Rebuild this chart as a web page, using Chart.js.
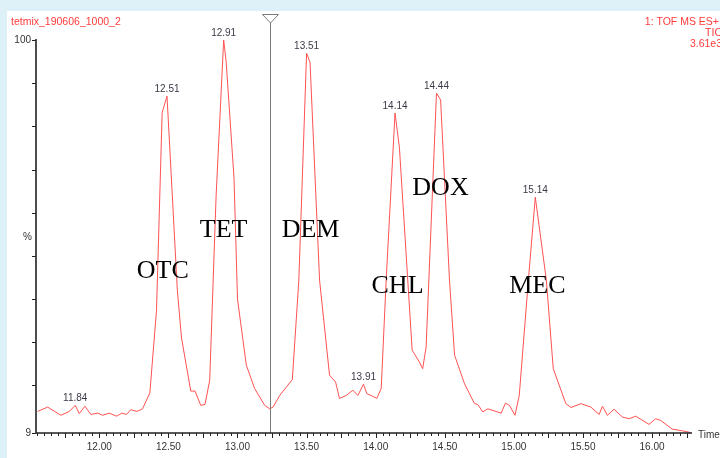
<!DOCTYPE html>
<html>
<head>
<meta charset="utf-8">
<script src="https://cdn.jsdelivr.net/npm/chart.js@4/dist/chart.umd.min.js"></script>
<style>
  html, body { margin: 0; padding: 0; background: #def1f9; }
  #wrap { position: relative; width: 720px; height: 458px; }
  canvas { display: block; }
</style>
</head>
<body>
<div id="wrap"><canvas id="tic" width="720" height="458"></canvas></div>
<script>
// retention time (min) and relative intensity (%)
const times = [11.554, 11.626, 11.723, 11.783, 11.826, 11.855, 11.896, 11.939, 11.988, 12.024,
  12.072, 12.125, 12.163, 12.197, 12.228, 12.272, 12.313, 12.366, 12.414, 12.455,
  12.49, 12.565, 12.595, 12.662, 12.693, 12.734, 12.765, 12.799, 12.845, 12.90,
  12.918, 12.975, 13.0, 13.064, 13.124, 13.197, 13.233, 13.257, 13.306, 13.397,
  13.444, 13.50, 13.525, 13.594, 13.666, 13.71, 13.738, 13.787, 13.835, 13.871,
  13.912, 13.936, 13.967, 14.008, 14.04, 14.076, 14.14, 14.172, 14.264, 14.317,
  14.34, 14.365, 14.44, 14.47, 14.534, 14.571, 14.643, 14.715, 14.739, 14.775,
  14.812, 14.908, 14.939, 14.968, 15.008, 15.039, 15.105, 15.155, 15.235, 15.285,
  15.376, 15.413, 15.485, 15.557, 15.617, 15.641, 15.677, 15.725, 15.785, 15.834,
  15.882, 15.978, 16.026, 16.063, 16.146, 16.219, 16.267, 16.279];
const signal = [14.0, 15.0, 13.1, 14.0, 15.4, 13.5, 15.2, 13.3, 13.6, 13.1,
  13.6, 12.9, 13.6, 13.3, 14.4, 14.0, 14.6, 18.3, 37.4, 83.2,
  87.0, 42.0, 31.0, 18.7, 18.7, 15.4, 15.6, 21.2, 63.7, 100.0,
  95.0, 68.0, 40.0, 24.7, 19.3, 15.4, 14.6, 15.0, 17.7, 21.4,
  44.4, 96.9, 94.8, 44.4, 22.4, 20.8, 17.0, 17.7, 18.9, 17.7,
  20.3, 18.1, 17.7, 17.0, 19.3, 44.4, 83.1, 75.0, 28.2, 25.4,
  23.9, 28.9, 87.7, 86.1, 44.4, 27.0, 20.4, 15.8, 15.6, 13.9,
  14.6, 13.6, 15.9, 15.4, 13.1, 17.7, 44.4, 63.6, 44.4, 23.9,
  15.8, 14.9, 15.8, 15.0, 13.3, 15.2, 13.1, 14.5, 12.7, 12.3,
  12.9, 11.0, 12.3, 11.9, 9.9, 9.5, 9.2, 9.0];

// apex points (index into the trace) and the times printed above them
const peakIndex = [4, 20, 29, 41, 50, 56, 62, 77];
const peakLabels = ['11.84', '12.51', '12.91', '13.51', '13.91', '14.14', '14.44', '15.14'];
const compounds = ['OTC', 'TET', 'DEM', 'CHL', 'DOX', 'MEC'];
const xTickLabels = ['12.00', '12.50', '13.00', '13.50', '14.00', '14.50', '15.00', '15.50', '16.00'];
const yTickLabels = ['9', '100'];
const markerTime = 13.233;

// where the compound names sit, in (time, %) coordinates
const compoundAt = [[12.459, 46.5], [12.90, 56.0], [13.529, 56.0], [14.158, 43.0], [14.469, 65.7], [15.17, 43.0]];

const points = times.map((t, i) => ({ x: t, y: signal[i] }));

const decor = {
  id: 'decor',
  beforeDraw(chart) {
    const c = chart.ctx;
    c.save();
    c.fillStyle = '#def1f9';
    c.fillRect(0, 0, 720, 458);
    c.fillStyle = '#ffffff';
    c.fillRect(7, 11, 713, 447);
    c.restore();
  },
  afterDatasetsDraw(chart) {
    const c = chart.ctx;
    const xs = chart.scales.x, ys = chart.scales.y;
    const a = chart.chartArea;
    c.save();

    // marker line with triangle
    const mx = Math.round(xs.getPixelForValue(markerTime)) + 0.5;
    c.strokeStyle = '#7a7a7a';
    c.lineWidth = 1;
    c.beginPath();
    c.moveTo(mx, 22);
    c.lineTo(mx, a.bottom);
    c.stroke();
    c.fillStyle = '#ffffff';
    c.beginPath();
    c.moveTo(mx - 8, 14.5);
    c.lineTo(mx + 8, 14.5);
    c.lineTo(mx, 23);
    c.closePath();
    c.fill();
    c.stroke();

    // axes
    c.strokeStyle = '#222';
    c.lineWidth = 1.6;
    c.beginPath();
    c.moveTo(a.left, ys.getPixelForValue(100) - 1);
    c.lineTo(a.left, a.bottom);
    c.lineTo(a.right, a.bottom);
    c.stroke();

    c.lineWidth = 1;
    // x ticks every 0.05
    for (let k = Math.ceil(xs.min / 0.05); k * 0.05 <= xs.max; k++) {
      const px = Math.round(xs.getPixelForValue(k * 0.05)) + 0.5;
      const len = (k % 5 === 0) ? 5 : 3;
      c.beginPath();
      c.moveTo(px, a.bottom);
      c.lineTo(px, a.bottom + len);
      c.stroke();
    }
    // y ticks
    [9, 20, 30, 40, 50, 60, 70, 80, 90, 100].forEach(v => {
      const py = Math.round(ys.getPixelForValue(v)) + 0.5;
      c.beginPath();
      c.moveTo(a.left - 4, py);
      c.lineTo(a.left, py);
      c.stroke();
    });

    c.fillStyle = '#333';
    c.font = '10px "Liberation Sans", Arial, sans-serif';
    c.textAlign = 'center';
    c.textBaseline = 'middle';
    xTickLabels.forEach(l => {
      c.fillText(l, xs.getPixelForValue(parseFloat(l)), a.bottom + 14);
    });
    c.textAlign = 'right';
    yTickLabels.forEach(l => {
      c.fillText(l, a.left - 5, ys.getPixelForValue(parseFloat(l)));
    });
    c.fillText('%', 32, 237);
    c.textAlign = 'left';
    c.fillText('Time', 698, a.bottom + 2);

    // peak apex labels
    c.textAlign = 'center';
    c.textBaseline = 'bottom';
    c.fillStyle = '#3a3a48';
    peakIndex.forEach((i, k) => {
      c.fillText(peakLabels[k], xs.getPixelForValue(times[i]), ys.getPixelForValue(signal[i]) - 2);
    });

    // compound names
    c.fillStyle = '#000';
    c.font = '26px "Liberation Serif", "Times New Roman", serif';
    c.textBaseline = 'middle';
    compounds.forEach((n, i) => {
      c.fillText(n, xs.getPixelForValue(compoundAt[i][0]), ys.getPixelForValue(compoundAt[i][1]));
    });

    // header texts
    c.fillStyle = '#ff3b3b';
    c.font = '10.5px "Liberation Sans", Arial, sans-serif';
    c.textAlign = 'left';
    c.fillText('tetmix_190606_1000_2', 11, 22);
    c.textAlign = 'right';
    c.fillText('1: TOF MS ES+', 719, 22);
    c.fillText('TIC', 722, 33);
    c.fillText('3.61e3', 722, 44);
    c.restore();
  }
};

const config = {
  type: 'line',
  data: {
    datasets: [{
      data: points,
      borderColor: '#ff5252',
      borderWidth: 1,
      pointRadius: 0,
      tension: 0,
      fill: false
    }]
  },
  options: {
    responsive: false,
    animation: false,
    devicePixelRatio: 1,
    layout: { padding: { left: 36, right: 28, top: 40, bottom: 25 } },
    plugins: { legend: { display: false }, tooltip: { enabled: false } },
    scales: {
      x: { type: 'linear', min: 11.542, max: 16.289, display: false },
      y: { type: 'linear', min: 9, max: 100, display: false }
    }
  },
  plugins: [decor]
};

window.onload = function () {
  const ctx = document.getElementById('tic').getContext('2d');
  window.ticChart = new Chart(ctx, config);
};
</script>
</body>
</html>
